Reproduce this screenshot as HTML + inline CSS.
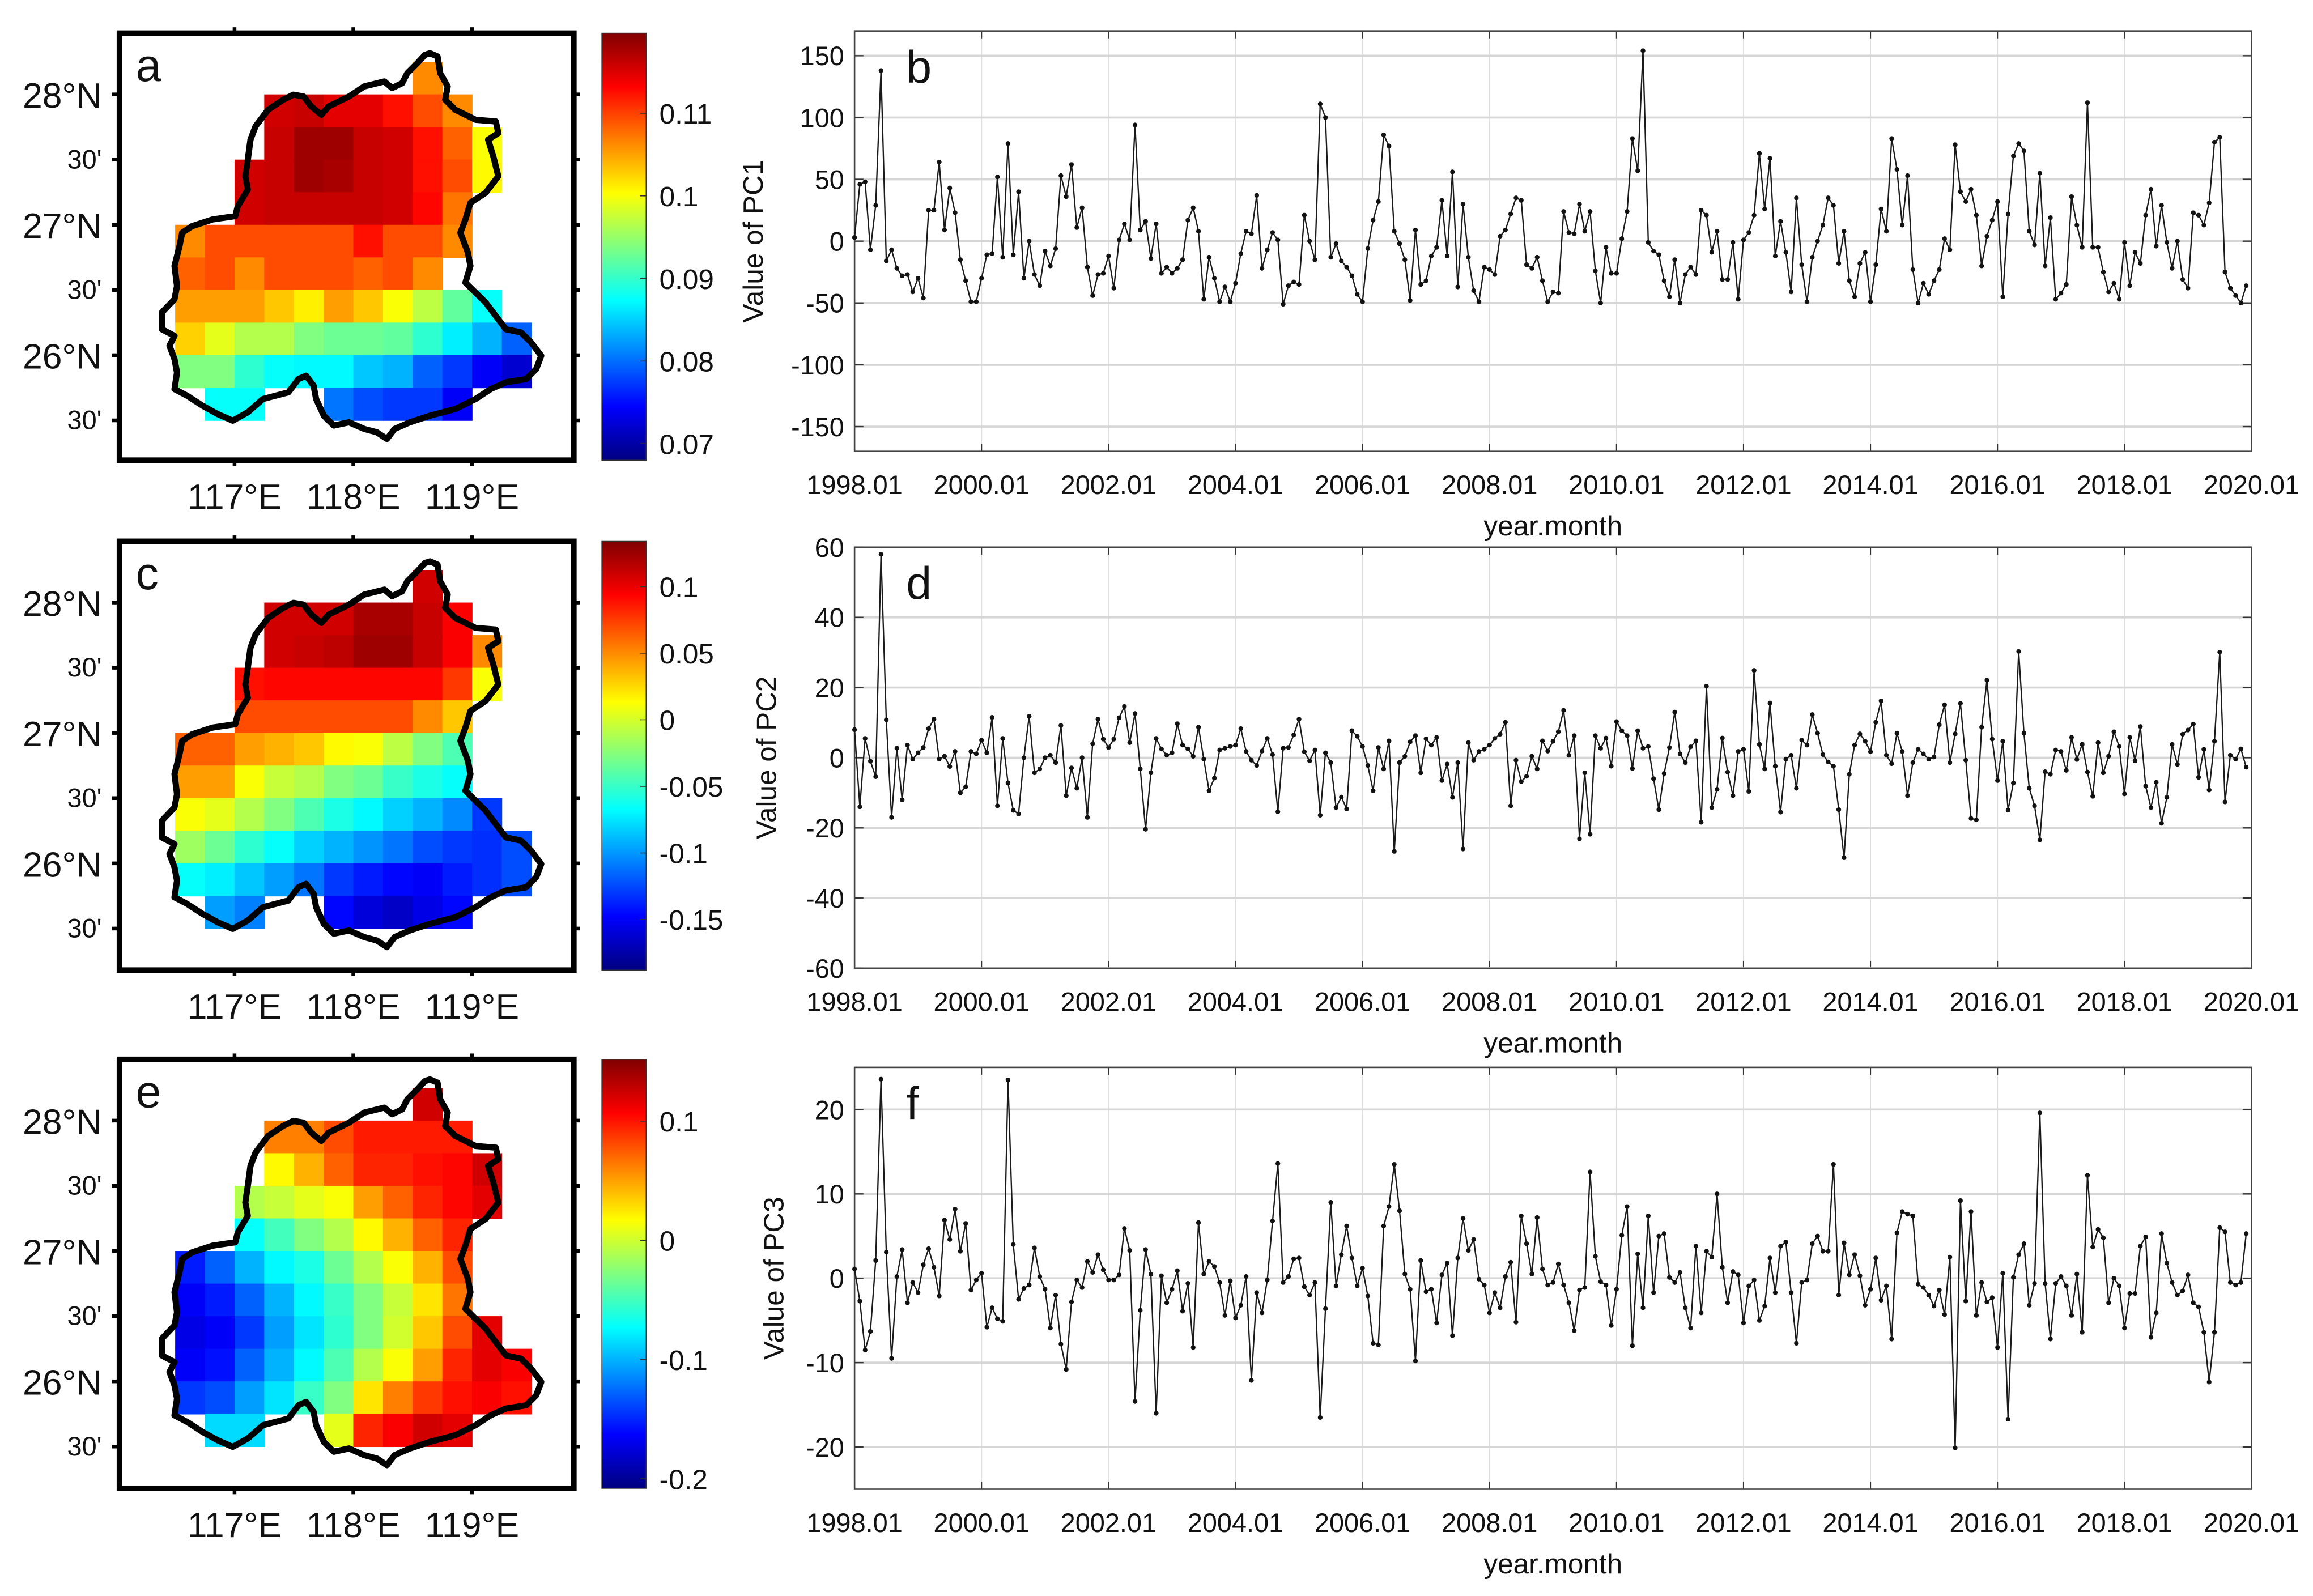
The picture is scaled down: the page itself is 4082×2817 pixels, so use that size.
<!DOCTYPE html>
<html><head><meta charset="utf-8">
<style>
html,body{margin:0;padding:0;background:#fff;}
svg{display:block;}
text{font-family:"Liberation Sans",Arial,sans-serif;fill:#111;}
</style></head>
<body>
<svg id="fig" xmlns="http://www.w3.org/2000/svg" width="4082" height="2817" viewBox="0 0 1568 1082" preserveAspectRatio="none">
<defs id="defs"></defs>
<rect x="0" y="0" width="1568" height="1082" fill="#fff"/>
</svg>
<script>
// ===== Time series data (monthly, 1998.01 - 2019.12) =====
const pc1 = [3,46,48,-7,29,138,-16,-7,-22,-28,
-27,-41,-30,-46,25,25,64,9,43,23,
-15,-32,-49,-49,-30,-11,-10,52,-13,79,
-11,40,-30,0,-27,-36,-8,-20,-6,53,
36,62,11,27,-21,-44,-27,-26,-12,-38,
1,14,1,94,9,16,-14,14,-26,-21,
-26,-22,-15,17,27,8,-47,-13,-30,-49,
-37,-49,-34,-10,8,6,37,-22,-7,7,
1,-51,-36,-33,-35,21,0,-15,111,100,
-13,-2,-16,-21,-28,-43,-49,-6,17,32,
86,77,8,-2,-15,-48,9,-35,-32,-12,
-5,33,-12,56,-37,30,-13,-40,-49,-21,
-23,-27,4,9,22,35,33,-19,
-22,-13,-32,-49,-41,-42,24,7,6,30,
8,24,-24,-50,-5,-26,-26,2,24,83,
57,154,-1,-8,-11,-32,-45,-15,-50,-27,
-21,-27,25,21,-9,8,-31,-31,-1,-47,
1,7,21,71,26,67,-12,16,-9,-41,
35,-19,-49,-13,0,13,35,29,-18,8,
-32,-45,-18,-9,-49,-19,26,8,83,58,
13,53,-23,-50,-34,-43,-32,-23,2,-7,
78,40,32,42,21,-20,4,17,32,-45,
22,69,79,73,8,-3,55,-20,19,-47,
-42,-35,36,13,-5,112,-5,-5,-25,-41,
-34,-47,-1,-36,-9,-18,21,42,-4,29,
-1,-22,0,-31,-38,23,21,13,31,80,
84,-25,-38,-44,-50,-36];
const pc2 = [8,-14,5.5,-1,-5.4,58,10.8,-17,2.7,-12,
3.6,-0.4,1.4,2.9,8.3,11,-0.4,0.4,-2.5,1.8,
-10,-8.3,1.8,1.1,5,1.4,11.5,-13.7,5.5,-7.2,
-15,-16,0,11.8,-4.3,-3.2,0,0.7,-1.4,9.2,
-10.8,-2.9,-8.7,0,-17,4,11,5.3,2.9,5.3,
11.4,14.6,4.3,12.6,-3.2,-20.4,-4.3,5.5,2.5,0.7,
1.4,9.7,3.6,2.5,0.4,8.7,-0.4,-9.4,-5.8,2.2,
2.7,3.2,3.6,8.3,1.8,-0.7,-2.2,1.9,5.5,0.9,
-15.4,2.7,2.9,6.5,11,1.7,-0.9,2.2,-16.4,1.4,
-1.4,-14.2,-11.2,-14.6,7.7,6.1,3.2,-2.2,-9.4,2.9,
-3.2,4.8,-26.7,-1.4,0.4,4.5,6.3,-4.3,5.4,3.6,
5.8,-6.5,-1.8,-11.3,-1.4,-26,4.3,-0.7,1.8,2.4,
3.6,5.5,6.7,10.1,-13.7,-0.7,-6.8,-5.3,
0.4,-3.2,4.8,1.9,4.7,7.4,13.5,0.7,6.3,-23.1,
-4.3,-21.8,6.3,2.7,5.6,-2.4,10.3,7.7,6.3,-3.1,
7.7,2.7,3.2,-6,-14.8,-4.5,2.9,13,1.1,-1.4,
3.1,4.8,-18.4,20.4,-14.2,-9,5.6,-4.1,-10.8,1.8,
2.4,-9.6,24.9,3.8,-3.2,15.6,-2.4,-15.5,-0.4,0.7,
-8.7,5,3.6,12.3,7,0.9,-1.2,-2.4,-14.8,-28.5,
-4.7,3.6,6.8,4.7,1.7,10.1,16.2,0.7,-1.7,7,
1.8,-10.8,-1.4,2.4,1.1,-0.4,0.2,9.4,15.1,-1.4,
6.8,15.5,-0.7,-17.3,-17.7,8.7,22.1,5.3,-6.5,4.7,
-14.9,-7.2,30.3,7,-8.7,-13.7,-23.4,-4,-4.7,2.2,
1.8,-3.6,5.8,-0.5,3.8,-4.1,-11,4.3,-4.3,0.4,
7.4,3.2,-10.3,5.8,-0.9,8.9,-8.1,-14.2,-7,-18.7,
-11.3,3.8,-1.9,6.7,7.9,9.6,-5.6,2.4,-9.2,4.7,
30.1,-12.6,0.7,-0.4,2.5,-2.7];
const pc3 = [1.1,-2.7,-8.5,-6.3,2.1,23.6,3.1,-9.5,0.2,3.4,
-2.9,-0.5,-1.7,1.6,3.5,1.3,-2.1,6.9,4.6,8.2,
3.2,6.5,-1.4,-0.2,0.6,-5.8,-3.5,-4.8,-5.1,23.5,
4,-2.5,-1.2,-0.8,3.6,0.2,-1.3,-5.9,-2,-7.8,
-10.8,-2.8,-0.2,-1.1,2,0.7,2.8,1,-0.2,-0.2,
0.4,5.9,3.3,-14.6,-3.8,3.4,0.5,-16,0.3,-2.9,
-1.3,0.9,-3.9,-0.6,-8.2,6.6,0.5,2,1.4,-0.5,
-4.4,-0.3,-4.7,-3.2,0.2,-12.1,-1.7,-4.1,-0.2,6.8,
13.6,-0.5,0.2,2.3,2.4,-1,-2,-0.5,-16.5,-3.6,
9,-0.9,2.8,6.2,2.4,-0.9,1.2,-2.1,-7.7,-7.9,
6.2,8.5,13.5,8,0.5,-1.3,-9.8,2.1,-1.6,-1.3,
-5.3,0.4,1.8,-6.8,2.4,7.1,3.3,4.6,-0.1,-0.8,
-4.1,-1.7,-3.5,0.2,1.9,-5.2,7.4,4.1,
0.5,7.2,1.1,-0.8,-0.5,1.7,-0.8,-2.9,-6.2,-1.4,
-1.1,12.6,2.6,-0.4,-0.8,-5.6,-1.3,5.1,8.5,-8,
2.9,-3.5,7.4,-1.7,5,5.3,0.1,-0.5,0.7,-3.5,
-5.9,3.8,-4.1,3.2,2.5,10,1.3,-2.9,0.8,0.4,
-5.3,-0.9,-0.2,-5,-3.3,2.4,-1.7,3.8,4.3,-1.7,
-7.7,-0.5,-0.2,4.1,5,3.2,3.2,13.5,-2,4.2,
0.4,2.8,0.3,-3.2,-1.3,2.4,-2.6,-0.9,-7.2,5.4,
7.9,7.6,7.4,-0.7,-1.1,-2,-3.3,-1.4,-4.3,2.5,
-20.1,9.2,-2.7,7.9,-4.4,-0.5,-2.8,-2.3,-8.2,0.6,
-16.7,0.1,2.8,4.1,-3.2,-0.6,19.6,-0.6,-7.2,-0.6,
0.2,-0.9,-4.4,0.5,-6.4,12.2,3.7,5.8,4.8,-2.9,
0,-0.9,-5.9,-1.8,-1.8,3.8,4.9,-7,-4.1,5.3,
1.8,-0.5,-2,-1.5,0.4,-2.9,-3.4,-6.4,-12.3,-6.4,
6,5.5,-0.5,-0.8,-0.5,5.3];
const xTickLabels = ["1998.01","2000.01","2002.01","2004.01","2006.01","2008.01","2010.01","2012.01","2014.01","2016.01","2018.01","2020.01"];
const yTicksB = [-150,-100,-50,0,50,100,150];
const yTicksD = [-60,-40,-20,0,20,40,60];
const yTicksF = [-20,-10,0,10,20];

// ===== Map data (normalized colour position 0..1 on each colorbar; null = no cell) =====
const n = null;
const mapA = [
[n,n,n,.92,.93,.9,.9,.86,.8,.74,n,n],
[n,n,n,.93,.97,.97,.93,.92,.86,.78,.62,n],
[n,n,.92,.93,.97,.96,.93,.92,.86,.8,.63,n],
[n,n,.92,.93,.93,.93,.93,.92,.87,.76,n,n],
[.74,.8,.8,.8,.8,.8,.86,.8,.8,.74,n,n],
[.78,.8,.74,.8,.8,.8,.78,.8,.74,n,n,n],
[.72,.72,.72,.68,.64,.72,.68,.62,.56,.47,.38,n],
[.67,.6,.55,.55,.5,.48,.48,.47,.42,.36,.3,.22],
[.5,.5,.42,.38,.37,.37,.32,.3,.22,.18,.12,.08],
[n,.38,.38,n,n,.24,.2,.18,.18,.12,n,n]];
const mapATop = 0.74;
const mapC = [
[n,n,n,.92,.92,.92,.96,.96,.93,.88,n,n],
[n,n,n,.92,.93,.94,.97,.97,.93,.88,.74,n],
[n,n,.86,.87,.87,.87,.87,.87,.87,.82,.62,n],
[n,n,.8,.8,.8,.8,.8,.8,.74,.68,n,n],
[.78,.78,.72,.7,.68,.63,.62,.56,.5,.45,n,n],
[.72,.72,.62,.57,.55,.5,.48,.43,.4,.38,n,n],
[.62,.6,.55,.5,.45,.4,.37,.33,.3,.26,.18,n],
[.53,.48,.42,.38,.33,.3,.27,.24,.2,.18,.17,.2],
[.38,.36,.32,.28,.24,.18,.15,.13,.12,.15,.17,.2],
[n,.28,.25,n,n,.13,.09,.07,.1,.13,n,n]];
const mapCTop = 0.92;
const mapE = [
[n,n,n,.75,.75,.8,.85,.85,.85,.85,n,n],
[n,n,n,.63,.7,.78,.84,.84,.86,.87,.92,n],
[n,n,.55,.57,.6,.62,.72,.78,.84,.87,.9,n],
[n,n,.38,.44,.5,.55,.63,.7,.78,.84,n,n],
[.15,.22,.3,.37,.4,.48,.55,.62,.7,.8,n,n],
[.12,.15,.22,.3,.37,.43,.5,.57,.65,.76,n,n],
[.1,.12,.18,.28,.35,.42,.5,.58,.68,.8,.9,n],
[.12,.14,.22,.3,.37,.45,.55,.62,.72,.84,.9,.88],
[.18,.2,.28,.35,.43,.5,.65,.75,.82,.86,.88,.86],
[n,.34,.34,n,n,.6,.84,.88,.92,.9,n,n]];
const mapETop = 0.92;
const cbLabelsA = ["0.11","0.1","0.09","0.08","0.07"];
const cbValsA = [0.11,0.10,0.09,0.08,0.07];
const cbLabelsC = ["0.1","0.05","0","-0.05","-0.1","-0.15"];
const cbValsC = [0.1,0.05,0,-0.05,-0.1,-0.15];
const cbLabelsE = ["0.1","0","-0.1","-0.2"];
const cbValsE = [0.1,0,-0.1,-0.2];

const NS = 'http://www.w3.org/2000/svg';
const svg = document.getElementById('fig');
const defs = document.getElementById('defs');
function el(tag, attrs, parent){
  const e = document.createElementNS(NS, tag);
  for (const k in attrs) e.setAttribute(k, attrs[k]);
  parent.appendChild(e);
  return e;
}
function clamp(v){return Math.max(0, Math.min(1, v));}
function jet(t){
  const r = clamp(1.5 - Math.abs(4*t - 3));
  const g = clamp(1.5 - Math.abs(4*t - 2));
  const b = clamp(1.5 - Math.abs(4*t - 1));
  return 'rgb(' + Math.round(r*255) + ',' + Math.round(g*255) + ',' + Math.round(b*255) + ')';
}

const grad = el('linearGradient', {id:'jetgrad', x1:'0', y1:'1', x2:'0', y2:'0'}, defs);
for (let k = 0; k <= 16; k++) {
  el('stop', {offset: (k/16).toFixed(4), 'stop-color': jet(k/16)}, grad);
}

const outlineRaw = [[850,160],[865,170],[870,220],[885,260],[880,300],[900,330],[940,360],[980,365],[985,400],[965,420],[975,470],[985,530],[960,580],[930,610],[920,660],[910,700],[925,760],[930,800],[920,850],[940,880],[960,910],[980,950],[1000,990],[1030,1000],[1050,1030],[1070,1070],[1060,1110],[1040,1140],[1000,1150],[970,1170],[940,1200],[900,1230],[850,1250],[810,1270],[780,1290],[765,1320],[745,1300],[720,1290],[690,1270],[660,1280],[640,1250],[625,1200],[620,1160],[605,1130],[590,1140],[570,1180],[520,1200],[490,1240],[460,1265],[430,1245],[400,1220],[370,1190],[345,1170],[350,1120],[345,1080],[335,1040],[345,1010],[320,990],[320,940],[345,900],[350,860],[345,800],[355,740],[360,700],[380,680],[420,660],[465,650],[470,620],[490,570],[485,530],[490,480],[495,420],[505,380],[530,330],[560,300],[580,285],[600,290],[615,320],[635,345],[650,320],[690,290],[720,260],[760,245],[775,265],[795,250],[805,220],[825,190],[840,165]];

function lonX(lon){ return 159 + (lon - 117) * 80.5; }
function latY(lat, off){ return off + 64 + (28 - lat) * 88.4; }

function drawMap(off, grid, topVal, letter, cbLabels, cbVals, cbTop, cbBot, cbMin, cbMax){
  const g = el('g', {}, svg);
  
  
  const boxTop = cbTop, boxBot = cbBot;
  const cw = 20.125, ch = 22.1;
  const extra = el('rect', {x: lonX(116.5 + 8*0.25), y: latY(28, off) - ch, width: cw + 0.3, height: ch + 0.3, fill: jet(topVal)}, g);
  
  
  for (let r = 0; r < grid.length; r++) {
    for (let c = 0; c < grid[r].length; c++) {
      const v = grid[r][c];
      if (v === null) continue;
      const cell = el('rect', {x: lonX(116.5 + c*0.25), y: latY(28 - r*0.25, off), width: cw + 0.3, height: ch + 0.3, fill: jet(v)}, g);
      
      
    }
  }
  const pts = outlineRaw.map(p => (p[0]/2.916).toFixed(1) + ',' + (p[1]/4.436 + off).toFixed(1)).join(' ');
  const ol = el('polygon', {points: pts, fill: 'none', stroke: '#000', 'stroke-width': 4.2, 'stroke-linejoin': 'round'}, g);
  
  
  const fr = el('rect', {x: 81, y: boxTop, width: 308, height: boxBot - boxTop, fill: 'none', stroke: '#000', 'stroke-width': 3.8}, g);
  
  
  const lats = [28, 27.5, 27, 26.5, 26, 25.5];
  const latNames = ['28°N', "30'", '27°N', "30'", '26°N', "30'"];
  for (let k = 0; k < lats.length; k++) {
    const y = latY(lats[k], off);
    el('line', {x1: 76, y1: y, x2: 81, y2: y, stroke: '#000', 'stroke-width': 2.5}, g);
    el('line', {x1: 389, y1: y, x2: 393, y2: y, stroke: '#000', 'stroke-width': 2.5}, g);
    const big = latNames[k].indexOf('N') >= 0;
    const t = el('text', {x: 69, y: y + (big ? 9 : 6), 'text-anchor': 'end', 'font-size': big ? 24 : 18}, g);
    t.textContent = latNames[k];
    
    
  }
  const lons = [117, 118, 119];
  for (let k = 0; k < lons.length; k++) {
    const x = lonX(lons[k]);
    el('line', {x1: x, y1: boxTop - 4, x2: x, y2: boxTop, stroke: '#000', 'stroke-width': 2.5}, g);
    el('line', {x1: x, y1: boxBot, x2: x, y2: boxBot + 4, stroke: '#000', 'stroke-width': 2.5}, g);
    const t = el('text', {x: x, y: boxBot + 33, 'text-anchor': 'middle', 'font-size': 24}, g);
    t.textContent = lons[k] + '°E';
    
    
  }
  const lt = el('text', {x: 92, y: off + 55, 'font-size': 31}, g);
  lt.textContent = letter;
  
  
  const cb = el('rect', {x: 408, y: cbTop, width: 30, height: cbBot - cbTop, fill: 'url(#jetgrad)', stroke: '#333', 'stroke-width': 0.6}, g);
  
  
  for (let k = 0; k < cbVals.length; k++) {
    const y = cbBot - (cbVals[k] - cbMin) / (cbMax - cbMin) * (cbBot - cbTop);
    el('line', {x1: 434, y1: y, x2: 438, y2: y, stroke: '#333', 'stroke-width': 0.6}, g);
    const t = el('text', {x: 447, y: y + 7, 'font-size': 19}, g);
    t.textContent = cbLabels[k];
    
    
  }
}

drawMap(0, mapA, mapATop, 'a', cbLabelsA, cbValsA, 22.5, 312, 0.068, 0.1197);
drawMap(344.5, mapC, mapCTop, 'c', cbLabelsC, cbValsC, 367, 657.7, -0.188, 0.134);
drawMap(695.7, mapE, mapETop, 'e', cbLabelsE, cbValsE, 718.2, 1009, -0.208, 0.1518);

const X0 = 579.3, X1 = 1526.3, NM = 264;
function xScale(i){ return X0 + i * (X1 - X0) / NM; }

function drawChart(data, top, bot, ymin, ymax, yticks, ylab, letter, ylabX){
  const g = el('g', {}, svg);
  
  
  const yScale = v => top + (ymax - v) / (ymax - ymin) * (bot - top);
  for (let k = 0; k < xTickLabels.length; k++) {
    const x = xScale(k * 24);
    const gl = el('line', {x1: x, y1: top, x2: x, y2: bot, stroke: '#dedede', 'stroke-width': 0.7}, g);
    
    
    el('line', {x1: x, y1: bot, x2: x, y2: bot - 5, stroke: '#333', 'stroke-width': 0.8}, g);
    el('line', {x1: x, y1: top, x2: x, y2: top + 5, stroke: '#333', 'stroke-width': 0.8}, g);
    const t = el('text', {x: x, y: bot + 29, 'text-anchor': 'middle', 'font-size': 18, fill: '#222'}, g);
    t.textContent = xTickLabels[k];
    
    
  }
  for (let k = 0; k < yticks.length; k++) {
    const y = yScale(yticks[k]);
    const gl = el('line', {x1: X0, y1: y, x2: X1, y2: y, stroke: '#d6d6d6', 'stroke-width': 1.4}, g);
    
    
    el('line', {x1: X0, y1: y, x2: X0 + 6, y2: y, stroke: '#333', 'stroke-width': 0.9}, g);
    el('line', {x1: X1 - 6, y1: y, x2: X1, y2: y, stroke: '#333', 'stroke-width': 0.9}, g);
    const t = el('text', {x: X0 - 7, y: y + 6.5, 'text-anchor': 'end', 'font-size': 18, fill: '#222'}, g);
    t.textContent = String(yticks[k]);
    
    
  }
  const box = el('rect', {x: X0, y: top, width: X1 - X0, height: bot - top, fill: 'none', stroke: '#444', 'stroke-width': 1}, g);
  
  
  const pts = data.map((v, i) => xScale(i).toFixed(2) + ',' + yScale(v).toFixed(2)).join(' ');
  const pl = el('polyline', {points: pts, fill: 'none', stroke: '#1a1a1a', 'stroke-width': 0.9, 'stroke-linejoin': 'round'}, g);
  
  
  for (let i = 0; i < data.length; i++) {
    const c = el('circle', {cx: xScale(i), cy: yScale(data[i]), r: 1.6, fill: '#111'}, g);
    
    
  }
  const yl = el('text', {x: ylabX, y: (top + bot) / 2, 'text-anchor': 'middle', 'font-size': 19, fill: '#333', transform: 'rotate(-90 ' + ylabX + ' ' + ((top + bot) / 2) + ')'}, g);
  yl.textContent = ylab;
  
  
  const xl = el('text', {x: (X0 + X1) / 2, y: bot + 57, 'text-anchor': 'middle', 'font-size': 19, fill: '#333'}, g);
  xl.textContent = 'year.month';
  
  
  const lt = el('text', {x: X0 + 35, y: top + 35, 'font-size': 31}, g);
  lt.textContent = letter;
  
  
}

drawChart(pc1, 21, 306, -170, 170, yTicksB, 'Value of PC1', 'b', 517);
drawChart(pc2, 371, 656.4, -60, 60, yTicksD, 'Value of PC2', 'd', 526);
drawChart(pc3, 723.6, 1009.6, -25, 25, yTicksF, 'Value of PC3', 'f', 531);
</script>
</body></html>
